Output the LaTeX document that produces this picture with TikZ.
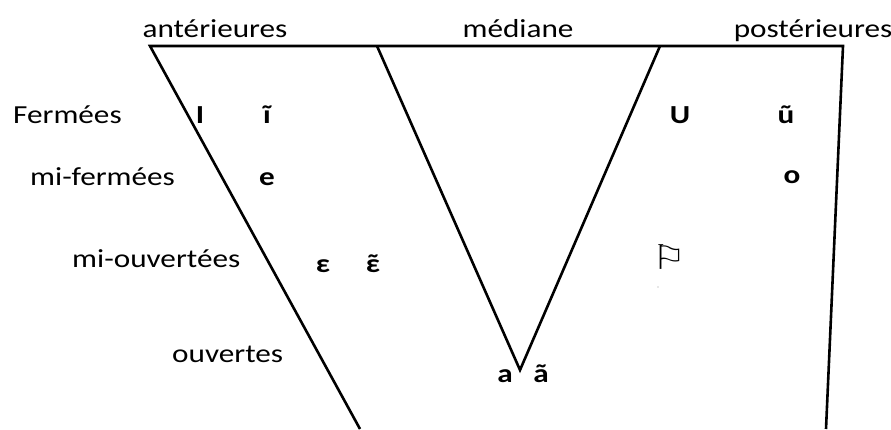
\documentclass[tikz,border=0pt]{standalone}
\usepackage{fontspec}
\setmainfont[FakeStretch=1.2]{Carlito}
\newfontfamily\symfont[FakeStretch=1.1]{DejaVu Sans}
\begin{document}
\begin{tikzpicture}[x=1pt,y=-1pt,
  lbl/.style={inner sep=0pt,font=\fontsize{26}{30}\selectfont},
  vow/.style={inner sep=0pt,anchor=base,font=\fontsize{26}{30}\selectfont\bfseries},
  edge/.style={line width=2.6pt,line join=miter}]
\useasboundingbox (0,0) rectangle (891,429);
% frame coordinates
\coordinate (tl) at (150,46);
\coordinate (ml) at (377,46);
\coordinate (mb) at (520,370);
\coordinate (mr) at (660,46);
\coordinate (tr) at (843,46);
\coordinate (bl) at (360,429);
\coordinate (br) at (826,429);
\draw[edge] (bl) -- (tl) -- (tr) -- (br);
\draw[edge] (ml) -- (mb) -- (mr);
% top labels
\node[lbl,anchor=base] (ant) at (215,37) {antérieures};
\node[lbl,anchor=base] (med) at (518,37) {médiane};
\node[lbl,anchor=base] (post) at (813,37) {postérieures};
% left labels
\node[lbl,anchor=base west] (ferm) at (13,123) {Fermées};
\node[lbl,anchor=base west] (mferm) at (30,185) {mi-fermées};
\node[lbl,anchor=base west] (mouv) at (72,267) {mi-ouvertées};
\node[lbl,anchor=base west] (ouv) at (172,362) {ouvertes};
% vowels
\node[vow] (vI) at (200,123) {I};
\node[vow] (vi) at (267,123) {ĩ};
\node[vow] (ve) at (267,185) {e};
\node[vow] (veps) at (323,272) {ε};
\node[vow] (vepst) at (373,272) {\ooalign{ε\cr\hidewidth˜\hidewidth\cr}};
\node[vow] (vU) at (680,123) {U};
\node[vow] (vu) at (786,123) {ũ};
\node[vow] (vo) at (792,183) {o};
\node[inner sep=0pt,anchor=base,font=\fontsize{34}{36}\selectfont\symfont] (flag) at (669,269) {⚐};
\fill[black!40] (658,287) circle (0.6);
\node[vow] (va) at (505,382) {a};
\node[vow] (vat) at (541,382) {ã};
\end{tikzpicture}
\end{document}
